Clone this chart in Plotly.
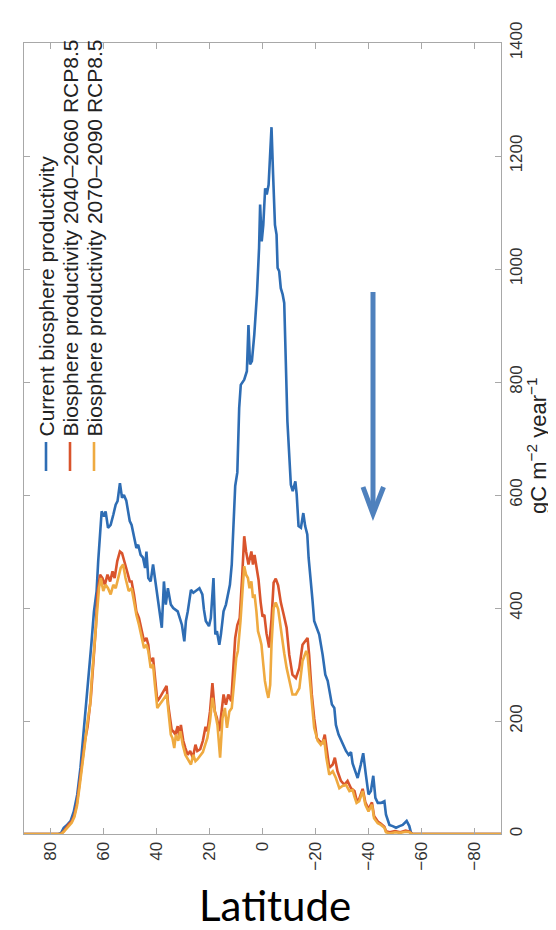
import plotly.graph_objects as go

# ---------------- data ----------------
lat_ticks = [80, 60, 40, 20, 0, -20, -40, -60, -80]
lat_labels = ["80", "60", "40", "20", "0", "−20", "−40", "−60", "−80"]
prod_ticks = [0, 200, 400, 600, 800, 1000, 1200, 1400]

series_names = [
    "Current biosphere productivity",
    "Biosphere productivity 2040–2060 RCP8.5",
    "Biosphere productivity 2070–2090 RCP8.5",
]

lat_current = [90, 77, 76, 75, 74, 72.4, 71.2, 69.9, 68.7, 67.4, 66.4, 65.5, 64.6, 63.6, 62.6, 62.0,
               61.3, 60.7, 59.8, 59.2, 58.3, 57.3, 56.3, 55.4, 54.7, 53.8, 53.0, 52.3, 51.4, 50.6,
               50.1, 49.4, 48.5, 47.6, 46.9, 46.0, 45.1, 44.3, 43.8, 43.1, 42.2, 41.3, 40.6, 39.7,
               38.8, 38.0, 37.2, 36.5, 35.7, 35.2, 34.6, 33.7, 32.9, 32.0, 31.2, 30.4, 29.5, 28.9,
               28.2, 27.6, 27.0, 26.1, 25.1, 24.6, 23.8, 23.3, 22.7, 22.1, 21.4, 20.2, 19.5, 18.5,
               17.8, 17.2, 16.3, 15.7, 14.7, 13.8, 12.9, 12.3, 11.6, 10.8, 10.3, 9.5, 8.8, 8.2,
               6.9, 5.9, 5.3, 4.7, 4.0, 3.1, 2.1, 1.3, 0.9, 0.3, -0.3, -1.0, -1.6, -2.3, -2.9,
               -3.4, -4.0, -4.7, -5.3, -5.7, -6.3, -6.9, -7.6, -8.2, -9.4, -10.1, -10.7, -11.4,
               -12.4, -12.9, -13.6, -14.5, -15.4, -16.1, -16.9, -17.4, -18.3, -18.9, -19.5, -20.4,
               -21.4, -22.7, -23.7, -24.6, -25.4, -26.2, -27.1, -27.7, -28.7, -30.2, -31.5, -32.5,
               -33.4, -34.0, -35.0, -35.9, -37.1, -38.0, -39.0, -40.0, -40.9, -41.8, -42.6, -43.5,
               -44.7, -46.0, -46.6, -47.9, -49.1, -50.4, -51.7, -52.9, -54.4, -55.4, -56.0, -56.5, -90]
prod_current = [0, 0, 2, 11, 15, 23, 40, 70, 117, 182, 241, 276, 335, 394, 430, 483,
                542, 571, 562, 571, 542, 547, 565, 583, 589, 621, 595, 600, 590, 570,
                554, 547, 524, 506, 512, 494, 489, 471, 500, 453, 447, 477, 453, 424,
                394, 365, 447, 406, 435, 418, 406, 400, 397, 394, 382, 370, 341, 377,
                394, 418, 432, 427, 430, 432, 435, 430, 424, 397, 377, 368, 382, 453,
                353, 359, 335, 353, 394, 406, 430, 441, 477, 559, 616, 640, 754, 795,
                804, 819, 901, 831, 837, 884, 955, 1037, 1114, 1049, 1078, 1143, 1132, 1149, 1214,
                1251, 1167, 1078, 1061, 1002, 996, 966, 955, 940, 730, 660, 618, 607,
                624, 601, 545, 542, 568, 545, 530, 489, 447, 412, 377, 365,
                353, 317, 282, 271, 247, 229, 223, 193, 176, 160, 147, 140,
                145, 125, 110, 99, 123, 143, 105, 70, 76, 103, 64, 55,
                55, 58, 34, 16, 14, 11, 14, 16, 23, 14, 3, 0, 0]

lat_2050 = [90, 77, 76, 75, 74, 73, 72, 71, 70, 69, 68, 67, 66, 65, 64.8, 63.8, 62.9, 62.3, 61.3,
            60.4, 59.5, 58.5, 57.5, 56.6, 55.8, 54.8, 53.8, 53.0, 52.1, 51.1, 50.1, 49.4, 48.5,
            47.6, 46.6, 45.6, 44.7, 43.8, 43.1, 42.6, 41.8, 41.3, 40.6, 39.7, 38.8, 38.0, 37.1,
            36.2, 35.6, 34.9, 34.2, 33.7, 32.9, 32.0, 31.4, 30.8, 29.9, 29.1, 28.2, 27.3, 26.3,
            25.3, 24.6, 23.5, 22.5, 21.5, 20.8, 19.8, 18.9, 18.0, 17.2, 16.3, 15.4, 14.7, 13.8,
            12.9, 11.8, 11.2, 10.3, 9.5, 8.6, 7.7, 6.9, 6.2, 5.3, 4.2, 3.6, 3.0, 2.3, 1.5, 0.7,
            0.0, -0.7, -1.5, -2.5, -3.4, -4.2, -5.0, -5.9, -6.9, -8.0, -9.1, -10.1, -11.3,
            -12.6, -13.9, -15.1, -16.1, -17.0, -17.6, -18.6, -19.5, -20.5, -21.4, -22.7, -23.5,
            -24.3, -25.2, -26.5, -27.3, -28.3, -29.6, -30.9, -32.1, -33.4, -34.7, -35.5, -36.5,
            -37.8, -38.8, -40.0, -41.3, -42.1, -43.5, -44.7, -46.0, -46.6, -48.0, -50.0, -52.0,
            -54.0, -55.5, -56.5, -90]
prod_2050 = [0, 0, 0, 5, 12, 18, 22, 33, 55, 90, 125, 165, 190, 225, 240, 306, 365, 424, 459,
             453, 441, 459, 447, 465, 453, 483, 500, 497, 483, 465, 447, 447, 424,
             394, 382, 359, 341, 347, 335, 312, 306, 312, 276, 235, 241, 247, 253,
             262, 229, 205, 182, 182, 176, 191, 170, 193, 165, 152, 140, 147, 135,
             158, 147, 150, 165, 190, 182, 217, 267, 217, 205, 182, 217, 247, 229,
             247, 235, 288, 347, 370, 382, 453, 527, 500, 477, 500, 477, 494, 470, 450, 410,
             385, 388, 355, 330, 380, 445, 452, 440, 410, 388, 365, 317, 282,
             276, 294, 335, 341, 347, 317, 247, 205, 170, 165, 161, 176,
             152, 117, 123, 135, 111, 94, 87, 94, 81, 76, 60, 62,
             80, 56, 44, 56, 32, 22, 18, 13, 5, 3, 5, 3,
             6, 4, 0, 0]

lat_2080 = [90, 77, 76, 75, 74, 73, 72, 71, 70, 69, 68, 67, 66, 65, 64.5, 63.6, 62.6, 61.7, 61.0,
            60.1, 59.2, 58.3, 57.3, 56.3, 55.4, 54.5, 53.5, 52.6, 51.7, 50.5, 49.4, 48.5, 47.6,
            46.6, 45.6, 44.7, 43.8, 43.1, 42.2, 41.3, 40.6, 39.7, 38.8, 37.8, 36.8, 36.1, 35.5,
            34.6, 34.0, 33.3, 32.7, 31.8, 31.0, 30.1, 29.1, 28.2, 27.0, 26.1, 25.3, 24.6, 23.5,
            22.5, 21.5, 20.8, 19.8, 18.9, 18.0, 17.0, 16.0, 15.1, 14.2, 13.4, 12.5, 11.6, 10.8,
            9.9, 9.3, 8.3, 7.4, 6.9, 6.2, 5.5, 4.9, 4.2, 3.6, 3.0, 2.3, 1.7, 1.0, 0.4, -0.3,
            -0.9, -1.6, -2.2, -2.9, -3.4, -4.2, -5.0, -5.9, -6.9, -8.2, -9.1, -10.1, -11.3,
            -12.6, -13.9, -15.1, -16.5, -17.0, -17.8, -18.6, -19.5, -20.8, -22.0, -23.3, -24.1,
            -25.2, -26.5, -27.7, -29.0, -30.2, -31.5, -32.8, -34.0, -34.7, -35.5, -36.5, -37.8,
            -38.8, -40.0, -41.3, -42.1, -43.5, -44.7, -46.0, -46.6, -48.0, -50.0, -52.0, -54.0,
            -55.5, -56.5, -90]
prod_2080 = [0, 0, 0, 4, 10, 16, 20, 30, 50, 85, 120, 160, 200, 230, 270, 324, 382, 435, 453,
             430, 441, 435, 424, 441, 435, 453, 471, 477, 453, 430, 435, 412, 388,
             370, 347, 329, 335, 324, 294, 300, 264, 223, 229, 235, 241, 247, 217,
             176, 170, 152, 176, 165, 182, 158, 140, 132, 123, 140, 129, 132, 140,
             145, 160, 170, 200, 241, 217, 193, 135, 205, 223, 188, 217, 223, 264,
             312, 324, 377, 441, 474, 459, 453, 435, 447, 418, 424, 394, 359, 347, 335, 300,
             271, 253, 241, 264, 335, 400, 410, 398, 360, 320, 294, 271, 247,
             247, 258, 306, 324, 317, 276, 229, 188, 165, 158, 167, 135,
             105, 111, 99, 81, 85, 87, 76, 78, 66, 55, 58, 76,
             52, 40, 52, 28, 19, 16, 11, 3, 1, 3, 2, 4,
             3, 0, 0]

colors = ["#2e6db4", "#d9542c", "#efaa40"]

# ---------------- figure ----------------
W, H = 556, 930
L, R, T, B = 16, 493, 35, 826          # plot-area edges in pixels


def px(x):
    return (x - L) / (R - L)


def py(y):
    return (B - y) / (B - T)


fig = go.Figure()
for lat, val, c, name in [(lat_current, prod_current, colors[0], series_names[0]),
                          (lat_2050, prod_2050, colors[1], series_names[1]),
                          (lat_2080, prod_2080, colors[2], series_names[2])]:
    fig.add_trace(go.Scatter(x=lat, y=val, mode="lines", name=name,
                             line=dict(color=c, width=2.6), showlegend=False))

axis_common = dict(showgrid=False, zeroline=False, showline=True, linecolor="#a8a8a8",
                   linewidth=1, ticks="inside", ticklen=6, tickcolor="#a8a8a8",
                   mirror="ticks", tickangle=-90,
                   tickfont=dict(family="Liberation Sans, Arial, sans-serif", size=17, color="#333333"))

fig.update_layout(
    width=W, height=H,
    margin=dict(l=L, r=W - R, t=T, b=H - B, autoexpand=False),
    paper_bgcolor="white", plot_bgcolor="white",
    xaxis=dict(range=[90, -90], tickvals=lat_ticks, ticktext=lat_labels, **axis_common),
    yaxis=dict(range=[0, 1400], tickvals=prod_ticks, side="right", **axis_common),
)

# legend drawn as rotated text with short line samples
leg_x = [38, 62, 86]
shapes = []
annotations = []
for i in range(3):
    annotations.append(dict(xref="paper", yref="paper", x=px(leg_x[i]), y=py(431),
                            xanchor="center", yanchor="bottom", showarrow=False,
                            text=series_names[i], textangle=-90,
                            font=dict(family="Liberation Sans, Arial, sans-serif", size=21, color="#222222")))
    shapes.append(dict(type="line", xref="paper", yref="paper",
                       x0=px(leg_x[i]), x1=px(leg_x[i]), y0=py(434), y1=py(463),
                       line=dict(color=colors[i], width=2.6)))

# downward arrow
arrow_col = "#4f81bd"
shapes.append(dict(type="line", xref="paper", yref="paper",
                   x0=px(365), x1=px(365), y0=py(284), y1=py(503),
                   line=dict(color=arrow_col, width=5)))
shapes.append(dict(type="path", xref="paper", yref="paper",
                   path=f"M {px(355)},{py(479)} L {px(365)},{py(506)} L {px(375.5)},{py(479)}",
                   line=dict(color=arrow_col, width=5)))

# axis titles
annotations.append(dict(xref="paper", yref="paper", x=px(529), y=py(438),
                        xanchor="center", yanchor="middle", showarrow=False,
                        text="gC m<sup>−2</sup> year<sup>−1</sup>", textangle=-90,
                        font=dict(family="Liberation Sans, Arial, sans-serif", size=22, color="#222222")))
annotations.append(dict(xref="paper", yref="paper", x=px(267), y=py(897),
                        xanchor="center", yanchor="middle", showarrow=False,
                        text="Latitude",
                        font=dict(family="Lato, Open Sans, sans-serif", size=42, color="#000000")))

fig.update_layout(shapes=shapes, annotations=annotations)
fig.write_html("out.html")
